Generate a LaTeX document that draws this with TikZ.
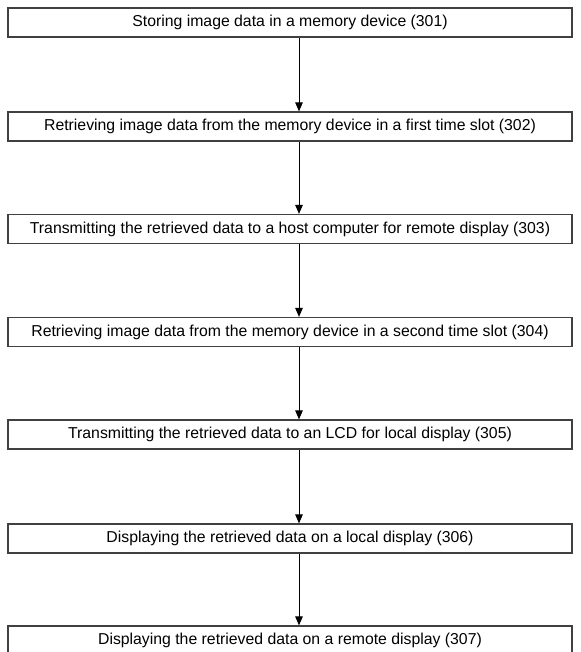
\documentclass[tikz,border=0pt]{standalone}
\usepackage{fontspec}
\setmainfont{Liberation Sans}
\usetikzlibrary{positioning,arrows.meta}

\begin{document}
\begin{tikzpicture}[x=1pt,y=-1pt,
  stepbox/.style={draw=black!75, line width=1.2pt, minimum width=564pt,
    minimum height=29pt, inner sep=0pt, font=\fontsize{15.8}{18}\selectfont},
  flow/.style={-{Triangle[length=9pt,width=7.5pt]}, line width=1pt}]
  \useasboundingbox (0,0) rectangle (580,652);

  % Arrow axis
  \coordinate (ax) at (299,0);

  % Steps
  \node[stepbox] (s301) at (290,22.5) {Storing image data in a memory device (301)};
  \node[stepbox] (s302) at (290,126.5) {Retrieving image data from the memory device in a first time slot (302)};
  \node[stepbox] (s303) at (290,229) {Transmitting the retrieved data to a host computer for remote display (303)};
  \node[stepbox] (s304) at (290,332) {Retrieving image data from the memory device in a second time slot (304)};
  \node[stepbox] (s305) at (290,434.5) {Transmitting the retrieved data to an LCD for local display (305)};
  \node[stepbox] (s306) at (290,538.5) {Displaying the retrieved data on a local display (306)};
  \node[stepbox] (s307) at (290,640.5) {Displaying the retrieved data on a remote display (307)};

  % Flow
  \foreach \a/\b in {s301/s302,s302/s303,s303/s304,s304/s305,s305/s306,s306/s307} {
    \draw[flow] (\a.south -| ax) -- (\b.north -| ax);
  }
\end{tikzpicture}
\end{document}
